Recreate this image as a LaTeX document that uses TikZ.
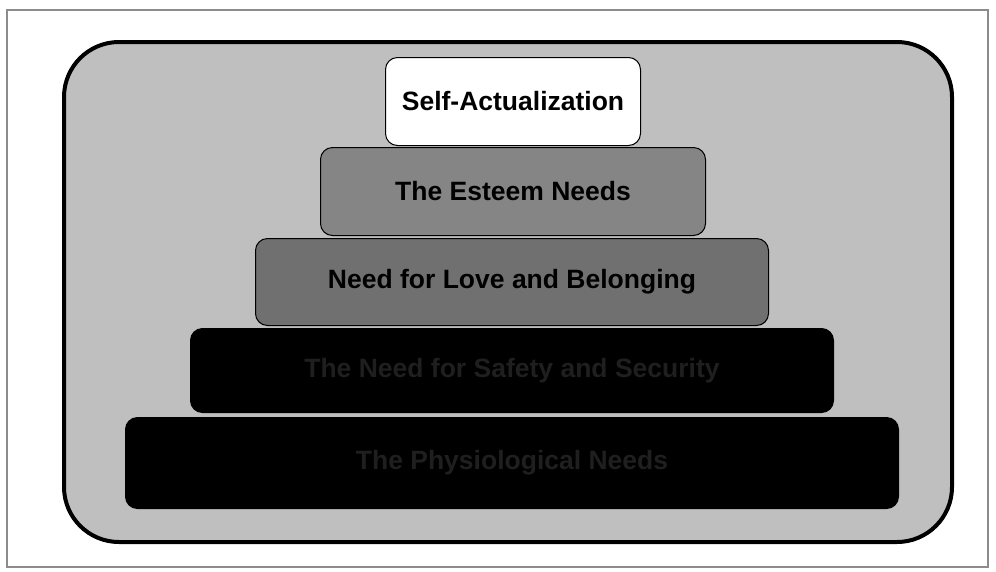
\documentclass[tikz,border=0pt]{standalone}
\usepackage{fontspec}
\setmainfont{Liberation Sans}
\usetikzlibrary{positioning}

\begin{document}
\begin{tikzpicture}[
    x=1pt, y=-1pt,
    level/.style={draw=black, line width=1pt, rounded corners=12pt, anchor=north west,
        inner sep=0pt, font=\fontsize{26.5}{30}\selectfont\bfseries},
    top/.style={level, fill=white, text=black},
    esteem/.style={level, fill=black!48, text=black},
    love/.style={level, fill=black!56, text=black},
    base/.style={level, fill=black, text=black!88},
]

% Page frame and background panel
\useasboundingbox (0,0) rectangle (996,571);
\draw[black!45, line width=1.5pt] (7,10) rectangle (988,567);
\node[draw=black, line width=4pt, fill=black!25, rounded corners=55pt,
    minimum width=888pt, minimum height=500pt, anchor=north west] (panel) at (62,40) {};

% Pyramid levels (nodes)
\node[base, minimum width=773pt, minimum height=91pt] (physio) at (125,417) {The Physiological Needs};
\node[base, minimum width=643pt, minimum height=84pt] (safety) at (190,328) {The Need for Safety and Security};
\node[love, minimum width=513pt, minimum height=87pt] (belong) at (255,238) {Need for Love and Belonging};
\node[esteem, minimum width=385pt, minimum height=88pt] (esteem) at (320,147) {The Esteem Needs};
\node[top, minimum width=255pt, minimum height=88pt] (selfact) at (385,57) {Self-Actualization};

\end{tikzpicture}
\end{document}
